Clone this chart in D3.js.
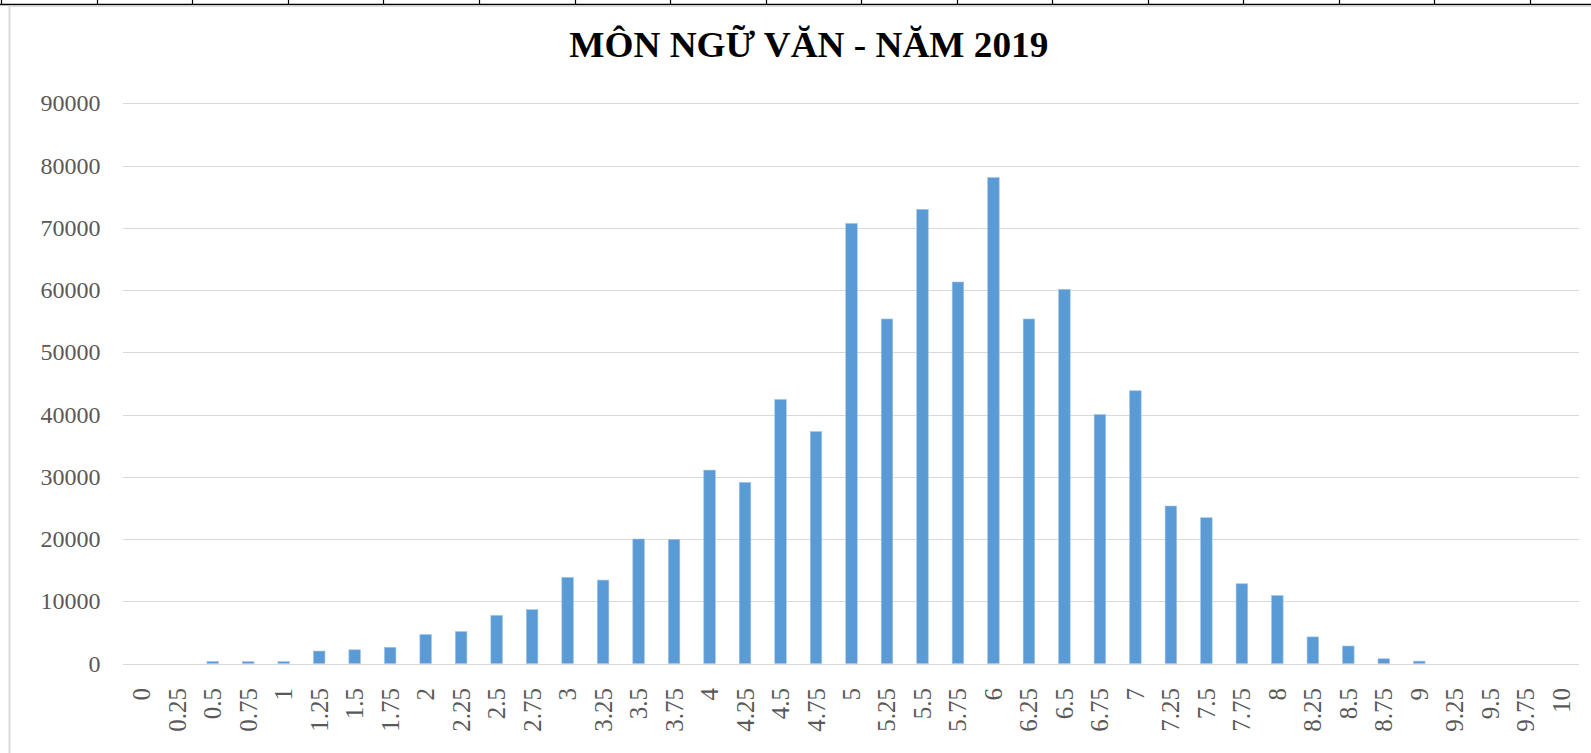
<!DOCTYPE html>
<html>
<head>
<meta charset="utf-8">
<script src="https://cdn.jsdelivr.net/npm/d3@7"></script>
<style>
  html, body { margin: 0; padding: 0; background: #fff; overflow: hidden; }
  svg { display: block; }
</style>
</head>
<body>
<svg id="chart"></svg>
<script>
// dữ liệu
const title = "MÔN NGỮ VĂN - NĂM 2019";
const scores = ["0", "0.25", "0.5", "0.75", "1", "1.25", "1.5", "1.75", "2", "2.25",
  "2.5", "2.75", "3", "3.25", "3.5", "3.75", "4", "4.25", "4.5", "4.75",
  "5", "5.25", "5.5", "5.75", "6", "6.25", "6.5", "6.75", "7", "7.25",
  "7.5", "7.75", "8", "8.25", "8.5", "8.75", "9", "9.25", "9.5", "9.75", "10"];
const counts = [0, 0, 320, 300, 300, 2000, 2200, 2600, 4650, 5130,
  7730, 8650, 13840, 13400, 20000, 19950, 31070, 29090, 42420, 37260,
  70700, 55350, 72960, 61290, 78060, 55350, 60110, 39990, 43820, 25300,
  23420, 12810, 10920, 4270, 2810, 760, 380, 0, 0, 0, 0];
const yTicks = [0, 10000, 20000, 30000, 40000, 50000, 60000, 70000, 80000, 90000];

const width = 1591, height = 753;
const margin = { left: 124, right: 12, top: 103.3, bottom: 89.5 };

const svg = d3.select("#chart")
  .attr("width", width)
  .attr("height", height);

// thước kẻ phía trên + viền khung
const deco = svg.append("g");
deco.append("line")
  .attr("x1", 0).attr("x2", width).attr("y1", 4.5).attr("y2", 4.5)
  .attr("stroke", "#000").attr("stroke-width", 1.3);
deco.append("line")
  .attr("x1", 10).attr("x2", width).attr("y1", 6.3).attr("y2", 6.3)
  .attr("stroke", "#dcdcdc").attr("stroke-width", 1.5);
for (let k = 0; k <= 16; k++) {
  const tx = Math.round(1.2 + 95.55 * k) + 0.5;
  deco.append("line")
    .attr("x1", tx).attr("x2", tx).attr("y1", 0).attr("y2", 4.5)
    .attr("stroke", "#000").attr("stroke-width", 1.2);
}
deco.append("line")
  .attr("x1", 9.5).attr("x2", 9.5).attr("y1", 5.5).attr("y2", height)
  .attr("stroke", "#d9d9d9").attr("stroke-width", 2);

const x = d3.scaleBand()
  .domain(scores)
  .range([margin.left, width - margin.right])
  .paddingInner(0.675)
  .paddingOuter(0.3375);

const y = d3.scaleLinear()
  .domain([0, 90000])
  .range([height - margin.bottom, margin.top]);

// lưới ngang
svg.append("g")
  .selectAll("line")
  .data(yTicks)
  .enter().append("line")
  .attr("x1", margin.left - 1)
  .attr("x2", width - margin.right)
  .attr("y1", d => Math.round(y(d)) + 0.5)
  .attr("y2", d => Math.round(y(d)) + 0.5)
  .attr("stroke", "#d9d9d9")
  .attr("stroke-width", 1.2);

// nhãn trục tung
svg.append("g")
  .selectAll("text")
  .data(yTicks)
  .enter().append("text")
  .attr("x", 100.5)
  .attr("y", d => y(d))
  .attr("dy", "0.34em")
  .attr("text-anchor", "end")
  .attr("font-family", "'Liberation Serif', 'Times New Roman', serif")
  .attr("font-size", 24)
  .attr("fill", "#595959")
  .text(d => d);

// cột
svg.append("g")
  .selectAll("rect")
  .data(counts)
  .enter().append("rect")
  .attr("x", (d, i) => x(scores[i]))
  .attr("width", x.bandwidth())
  .attr("y", d => y(d))
  .attr("height", d => y(0) - y(d))
  .attr("fill", "#5b9bd5")
  .attr("stroke", "#9fc4e8")
  .attr("stroke-width", d => d > 0 ? 0.6 : 0);

// nhãn trục hoành (xoay dọc)
svg.append("g")
  .selectAll("text")
  .data(scores)
  .enter().append("text")
  .attr("transform", d => `translate(${x(d) + x.bandwidth() / 2},688) rotate(-90)`)
  .attr("dy", "0.34em")
  .attr("text-anchor", "end")
  .attr("font-family", "'Liberation Serif', 'Times New Roman', serif")
  .attr("font-size", 25)
  .attr("fill", "#595959")
  .text(d => d);

// tiêu đề
svg.append("text")
  .attr("x", 808.8)
  .attr("y", 56.7)
  .attr("text-anchor", "middle")
  .attr("font-family", "'Liberation Serif', 'Times New Roman', serif")
  .attr("font-weight", "bold")
  .attr("font-size", 35)
  .attr("fill", "#000")
  .attr("textLength", 479)
  .attr("lengthAdjust", "spacingAndGlyphs")
  .text(title);
</script>
</body>
</html>
